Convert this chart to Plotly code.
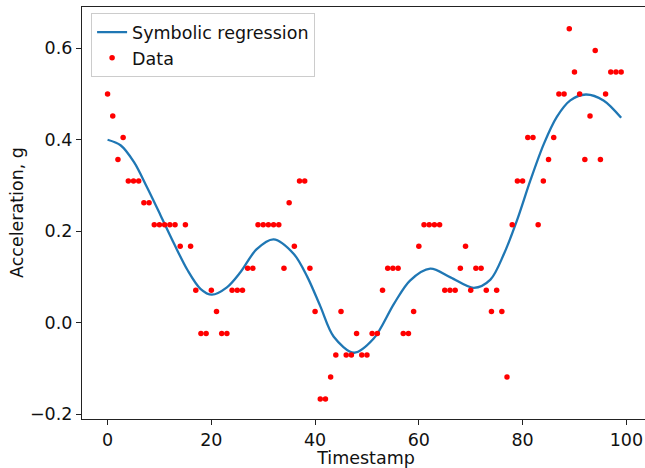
import plotly.graph_objects as go

# Data points (timestamp, acceleration in g)
data_x = list(range(100))
data_y = [
    0.500, 0.452, 0.357, 0.405, 0.310, 0.310, 0.310, 0.262, 0.262, 0.214,
    0.214, 0.214, 0.214, 0.214, 0.167, 0.214, 0.167, 0.071, -0.024, -0.024,
    0.071, 0.024, -0.024, -0.024, 0.071, 0.071, 0.071, 0.119, 0.119, 0.214,
    0.214, 0.214, 0.214, 0.214, 0.119, 0.262, 0.167, 0.310, 0.310, 0.119,
    0.024, -0.167, -0.167, -0.119, -0.071, 0.024, -0.071, -0.071, -0.024, -0.071,
    -0.071, -0.024, -0.024, 0.071, 0.119, 0.119, 0.119, -0.024, -0.024, 0.024,
    0.167, 0.214, 0.214, 0.214, 0.214, 0.071, 0.071, 0.071, 0.119, 0.167,
    0.071, 0.119, 0.119, 0.071, 0.024, 0.071, 0.024, -0.119, 0.214, 0.310,
    0.310, 0.405, 0.405, 0.214, 0.310, 0.357, 0.405, 0.500, 0.500, 0.643,
    0.548, 0.500, 0.357, 0.452, 0.595, 0.357, 0.500, 0.548, 0.548, 0.548,
]

# Symbolic regression curve
curve_x = [0, 2.5, 5.1, 7.6, 10.2, 12.8, 15.4, 17.9, 20.1, 23.0, 25.6, 28.7,
           32.0, 35.9, 38.5, 41.0, 43.6, 47.5, 51.3, 55.2, 58.3, 62.2, 66.1,
           70.6, 73.8, 76.4, 78.9, 81.5, 84.1, 86.6, 89.2, 92.2, 95.6, 99]
curve_y = [0.400, 0.388, 0.351, 0.296, 0.235, 0.173, 0.115, 0.074, 0.061, 0.077,
           0.110, 0.160, 0.182, 0.150, 0.100, 0.036, -0.031, -0.066, -0.035, 0.041,
           0.092, 0.118, 0.099, 0.076, 0.094, 0.150, 0.223, 0.311, 0.391, 0.450,
           0.486, 0.499, 0.486, 0.448]

x_ticks = [0, 20, 40, 60, 80, 100]
y_ticks = [-0.2, 0.0, 0.2, 0.4, 0.6]

FONT = "DejaVu Sans"
FS = 17.5

fig = go.Figure()
fig.add_trace(go.Scatter(
    x=curve_x, y=curve_y, mode="lines", name="Symbolic regression",
    line=dict(color="#1f77b4", width=2.3, shape="spline", smoothing=0.9),
))
fig.add_trace(go.Scatter(
    x=data_x, y=data_y, mode="markers", name="Data",
    marker=dict(color="red", size=5.5, line=dict(width=0)),
))

axis_common = dict(
    showgrid=False, zeroline=False, showline=True, linecolor="#222",
    linewidth=1.1, ticks="outside", ticklen=5, tickwidth=1.1, tickcolor="#222",
    tickfont=dict(family=FONT, size=FS, color="#111"), automargin=False,
)

fig.update_layout(
    width=650, height=468,
    margin=dict(l=82, r=0, t=7, b=49),
    paper_bgcolor="white", plot_bgcolor="white",
    font=dict(family=FONT, size=FS, color="#111"),
    showlegend=True,
    legend=dict(
        x=0.016, y=0.985, xanchor="left", yanchor="top",
        bgcolor="rgba(255,255,255,0.8)", bordercolor="#cccccc", borderwidth=1,
        font=dict(family=FONT, size=FS, color="#111"),
        tracegroupgap=0, itemwidth=30,
    ),
    xaxis=dict(
        range=[-4.93, 104.56], tickvals=x_ticks, mirror=True,
        title=dict(text="Timestamp", font=dict(family=FONT, size=FS)),
        **axis_common,
    ),
    yaxis=dict(
        range=[-0.2109, 0.6904], tickvals=y_ticks, tickformat=".1f", mirror=False,
        **axis_common,
    ),
    annotations=[dict(
        text="Acceleration, g", textangle=-90, showarrow=False,
        xref="paper", yref="paper", x=0, y=0.5, xanchor="center", yanchor="middle",
        xshift=-65, font=dict(family=FONT, size=FS, color="#111"),
    )],
)

fig.write_html(
    "out.html",
    config={"displayModeBar": False},
    post_script="document.body.style.margin='0';document.body.style.overflow='hidden';",
)
